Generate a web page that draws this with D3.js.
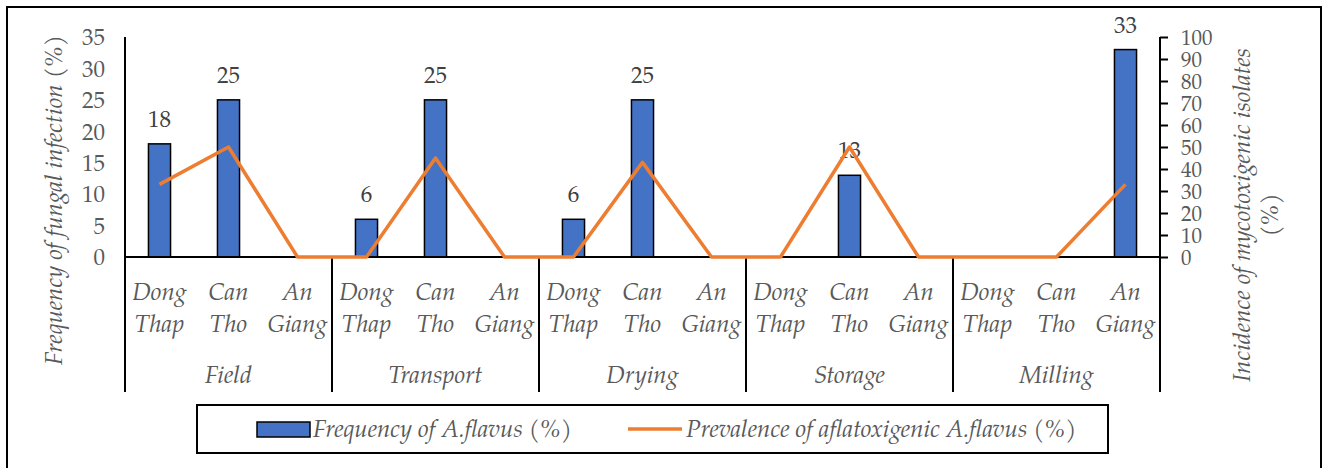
<!DOCTYPE html>
<html>
<head>
<meta charset="utf-8">
<script src="https://cdn.jsdelivr.net/npm/d3@7"></script>
<style>
  html, body { margin: 0; padding: 0; background: #fff; }
  svg { display: block; }
</style>
</head>
<body>
<svg id="chart" width="1323" height="468"></svg>
<script>
// Sampling stages and provinces
const stages = ["Field", "Transport", "Drying", "Storage", "Milling"];
const provinces = [["Dong", "Thap"], ["Can", "Tho"], ["An", "Giang"]];

// Frequency of A. flavus (%) per stage × province (left axis)
const frequency = [18, 25, 0, 6, 25, 0, 6, 25, 0, 0, 13, 0, 0, 0, 33];
// Prevalence of aflatoxigenic A. flavus (%) (right axis)
const prevalence = [33, 50, 0, 0, 45, 0, 0, 43, 0, 0, 50, 0, 0, 0, 33];

const leftTicks = [0, 5, 10, 15, 20, 25, 30, 35];
const rightTicks = [0, 10, 20, 30, 40, 50, 60, 70, 80, 90, 100];

const seriesNames = ["Frequency of A.flavus (%)", "Prevalence of aflatoxigenic A.flavus (%)"];
const leftTitle = "Frequency of fungal infection (%)";
const rightTitle = ["Incidence of mycotoxigenic isolates", "(%)"];

const FONT = "'TeX Gyre Pagella', 'Liberation Serif', serif";
const svg = d3.select("#chart");
const plot = { left: 125, right: 1160, top: 37, bottom: 257, catBottom: 392 };
const labelColor = "#595959";
const fontSize = 24;
const numSize = 23;

// One entry per bar position
const cats = [];
stages.forEach((s, i) => provinces.forEach((p, j) => cats.push({ key: s + "|" + j, stage: s, prov: p, idx: i * 3 + j })));

const x = d3.scaleBand().domain(cats.map(d => d.key)).range([plot.left, plot.right]).paddingInner(0).paddingOuter(0);
const xStage = d3.scaleBand().domain(stages).range([plot.left, plot.right]);
const yL = d3.scaleLinear().domain([0, 35]).range([plot.bottom, plot.top]);
const yR = d3.scaleLinear().domain([0, 100]).range([plot.bottom, plot.top]);

// Outer frame
svg.append("rect").attr("x", 7).attr("y", 7).attr("width", 1314).attr("height", 480)
  .attr("fill", "none").attr("stroke", "#000").attr("stroke-width", 2);

// Bars
const bw = x.bandwidth() * 0.32;
svg.append("g").selectAll("rect").data(cats.filter(d => frequency[d.idx] > 0)).join("rect")
  .attr("x", d => x(d.key) + x.bandwidth() / 2 - bw / 2)
  .attr("y", d => yL(frequency[d.idx]))
  .attr("width", bw)
  .attr("height", d => yL(0) - yL(frequency[d.idx]))
  .attr("fill", "#4472C4").attr("stroke", "#000").attr("stroke-width", 1.5);

// Bar value labels
svg.append("g").selectAll("text").data(cats.filter(d => frequency[d.idx] > 0)).join("text")
  .attr("x", d => x(d.key) + x.bandwidth() / 2)
  .attr("y", d => yL(frequency[d.idx]) - 17)
  .attr("text-anchor", "middle").attr("font-size", numSize).attr("fill", "#404040")
  .text(d => frequency[d.idx]);

// Baseline
svg.append("line").attr("x1", plot.left).attr("x2", plot.right)
  .attr("y1", yL(0)).attr("y2", yL(0)).attr("stroke", "#000").attr("stroke-width", 2);

// Stage separators below the baseline
svg.append("g").selectAll("line").data(stages.slice(1)).join("line")
  .attr("x1", d => xStage(d)).attr("x2", d => xStage(d))
  .attr("y1", yL(0)).attr("y2", plot.catBottom)
  .attr("stroke", "#000").attr("stroke-width", 2);

// Left axis (line only, no ticks)
const gL = svg.append("g").attr("transform", `translate(${plot.left},0)`)
  .call(d3.axisLeft(yL).tickValues(leftTicks).tickSize(0).tickPadding(20));
gL.select(".domain").remove();
gL.append("line").attr("x1", 0).attr("x2", 0).attr("y1", plot.top).attr("y2", plot.catBottom)
  .attr("stroke", "#000").attr("stroke-width", 2);
gL.selectAll(".tick text").attr("font-size", numSize).attr("fill", labelColor).attr("dy", "0.34em");

// Right axis with outward ticks (labels a touch smaller so the dense ticks do not collide)
const gR = svg.append("g").attr("transform", `translate(${plot.right},0)`)
  .call(d3.axisRight(yR).tickValues(rightTicks).tickSize(8).tickPadding(13));
gR.select(".domain").remove();
gR.append("line").attr("x1", 0).attr("x2", 0).attr("y1", plot.top).attr("y2", plot.catBottom)
  .attr("stroke", "#000").attr("stroke-width", 2);
gR.selectAll(".tick line").attr("stroke", "#000").attr("stroke-width", 2);
gR.selectAll(".tick text").attr("font-size", 21).attr("fill", labelColor).attr("dy", "0.34em");

// Prevalence line
const line = d3.line().x(d => x(d.key) + x.bandwidth() / 2).y(d => yR(prevalence[d.idx]));
svg.append("path").datum(cats).attr("d", line)
  .attr("fill", "none").attr("stroke", "#ED7D31").attr("stroke-width", 3.5)
  .attr("stroke-linejoin", "round");

// Province labels (two lines)
const provG = svg.append("g").attr("font-style", "italic").attr("font-size", fontSize).attr("fill", labelColor);
cats.forEach(d => {
  const cx = x(d.key) + x.bandwidth() / 2;
  provG.append("text").attr("x", cx).attr("y", 300).attr("text-anchor", "middle").text(d.prov[0]);
  provG.append("text").attr("x", cx).attr("y", 332).attr("text-anchor", "middle").text(d.prov[1]);
});

// Stage labels
svg.append("g").selectAll("text").data(stages).join("text")
  .attr("x", d => xStage(d) + xStage.bandwidth() / 2).attr("y", 383)
  .attr("text-anchor", "middle").attr("font-style", "italic").attr("font-size", fontSize).attr("fill", labelColor)
  .text(d => d);

// Axis titles
svg.append("text").attr("transform", "translate(62,200) rotate(-90)")
  .attr("text-anchor", "middle").attr("font-style", "italic").attr("font-size", fontSize).attr("fill", labelColor)
  .text(leftTitle);
rightTitle.forEach((t, i) => {
  svg.append("text").attr("transform", `translate(${1250 + i * 28},215) rotate(-90)`)
    .attr("text-anchor", "middle").attr("font-style", "italic").attr("font-size", fontSize).attr("fill", labelColor)
    .text(t);
});

// Legend
const lg = svg.append("g");
lg.append("rect").attr("x", 197).attr("y", 405).attr("width", 911).attr("height", 48)
  .attr("fill", "#fff").attr("stroke", "#000").attr("stroke-width", 2);
lg.append("rect").attr("x", 257).attr("y", 422).attr("width", 53).attr("height", 15)
  .attr("fill", "#4472C4").attr("stroke", "#000").attr("stroke-width", 1.5);
lg.append("text").attr("x", 313).attr("y", 437).attr("font-style", "italic").attr("font-size", fontSize)
  .attr("fill", labelColor).text(seriesNames[0]);
lg.append("line").attr("x1", 628).attr("x2", 682).attr("y1", 429).attr("y2", 429)
  .attr("stroke", "#ED7D31").attr("stroke-width", 3.5);
lg.append("text").attr("x", 686).attr("y", 437).attr("font-style", "italic").attr("font-size", fontSize)
  .attr("fill", labelColor).text(seriesNames[1]);

// Apply the serif face to every label
svg.selectAll("text").attr("font-family", FONT);
svg.selectAll("g").attr("font-family", FONT);
</script>
</body>
</html>
